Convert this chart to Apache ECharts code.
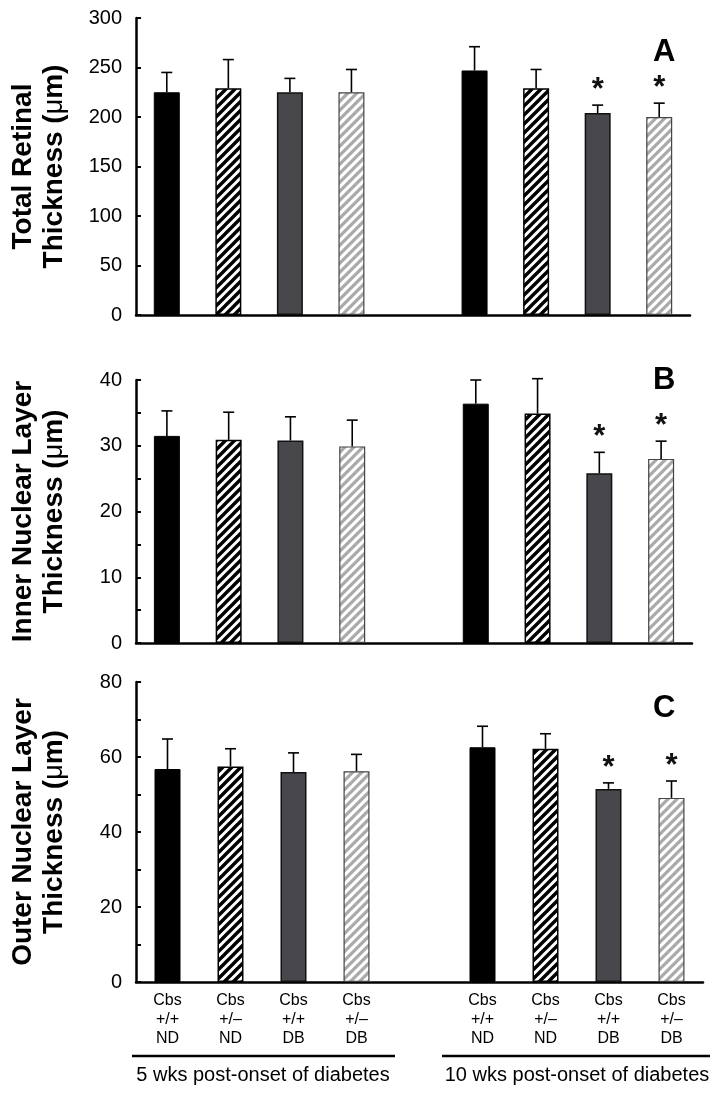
<!DOCTYPE html>
<html><head><meta charset="utf-8">
<script src="https://cdn.jsdelivr.net/npm/echarts@6/dist/echarts.min.js"></script>
<style>html,body{margin:0;padding:0;background:#fff}#c{width:719px;height:1094px}</style>
</head><body><div id="c"></div>
<script>
// ---- data ----
const genotypes = ['Cbs\n+/+\nND', 'Cbs\n+/\u2013\nND', 'Cbs\n+/+\nDB', 'Cbs\n+/\u2013\nDB'];
const periods = ['5 wks post-onset of diabetes', '10 wks post-onset of diabetes'];

// Panel A: total retinal thickness (µm)
const totalMean5 = [225, 229, 225, 225];
const totalErr5 = [20, 29, 14, 23];
const totalMean10 = [247, 229, 204, 200];
const totalErr10 = [24, 19, 8, 14];

// Panel B: inner nuclear layer thickness (µm)
const innerMean5 = [31.5, 30.9, 30.8, 29.9];
const innerErr5 = [3.8, 4.2, 3.6, 4.0];
const innerMean10 = [36.4, 34.9, 25.8, 28.0];
const innerErr10 = [3.6, 5.3, 3.2, 2.7];

// Panel C: outer nuclear layer thickness (µm)
const outerMean5 = [56.8, 57.5, 56.0, 56.2];
const outerErr5 = [8.0, 4.7, 5.1, 4.5];
const outerMean10 = [62.6, 62.2, 51.5, 49.1];
const outerErr10 = [5.6, 4.0, 1.6, 4.5];

// significance markers (*) at 10 wks
const sig5 = [false, false, false, false];
const sig10 = [false, false, true, true];

const panelLetters = ['A', 'B', 'C'];
const panelTitles = ['Total Retinal', 'Inner Nuclear Layer', 'Outer Nuclear Layer'];

// ---- styles ----
function stripes(color, bg, lw) {
  const s = 9;
  const c = document.createElement('canvas');
  c.width = s; c.height = s;
  const ctx = c.getContext('2d');
  ctx.fillStyle = bg; ctx.fillRect(0, 0, s, s);
  ctx.strokeStyle = color; ctx.lineWidth = lw; ctx.lineCap = 'square';
  ctx.beginPath();
  ctx.moveTo(-s / 2, s / 2); ctx.lineTo(s / 2, -s / 2);
  ctx.moveTo(0, s); ctx.lineTo(s, 0);
  ctx.moveTo(s / 2, 3 * s / 2); ctx.lineTo(3 * s / 2, s / 2);
  ctx.stroke();
  return c;
}
const blackStripe = stripes('#000', '#fff', 3.4);
const grayStripe = stripes('#aaaaaa', '#fff', 3.2);
const barStyles = [
  { color: '#000', borderColor: '#000', borderWidth: 1 },
  { color: { image: blackStripe, repeat: 'repeat' }, borderColor: '#000', borderWidth: 1.5 },
  { color: '#48484c', borderColor: '#111', borderWidth: 1.5 },
  { color: { image: grayStripe, repeat: 'repeat' }, borderColor: '#444', borderWidth: 1.2 }
];

const categories = [...genotypes, '', ...genotypes];

function barData(m5, m10) {
  const vals = [...m5, null, ...m10];
  return vals.map((v, i) => v === null ? '-' : { value: v, itemStyle: barStyles[i > 4 ? i - 5 : i] });
}
function errData(m5, e5, m10, e10) {
  const out = [];
  m5.forEach((m, i) => out.push([i, m, e5[i], sig5[i] ? 1 : 0]));
  m10.forEach((m, i) => out.push([i + 5, m, e10[i], sig10[i] ? 1 : 0]));
  return out;
}
function renderErr(params, api) {
  const x = api.value(0), m = api.value(1), e = api.value(2), s = api.value(3);
  const p0 = api.coord([x, m]);
  const p1 = api.coord([x, m + e]);
  const children = [
    { type: 'line', shape: { x1: p0[0], y1: p0[1], x2: p1[0], y2: p1[1] }, style: { stroke: '#000', lineWidth: 1.6 } },
    { type: 'line', shape: { x1: p1[0] - 5.5, y1: p1[1], x2: p1[0] + 5.5, y2: p1[1] }, style: { stroke: '#000', lineWidth: 1.6 } }
  ];
  if (s) {
    children.push({ type: 'text', style: { text: '*', x: p1[0], y: p1[1] + 1, align: 'center', verticalAlign: 'bottom',
      font: 'bold 31px "Liberation Sans", Arial, sans-serif', fill: '#111' } });
  }
  return { type: 'group', children };
}

const FONT = '"Liberation Sans", Arial, sans-serif';
const grids = [
  { left: 133, top: 18, right: 29, height: 297 },
  { left: 133, top: 380, right: 27, height: 263 },
  { left: 133, top: 682, right: 16, height: 300 }
];
const yCfg = [
  { max: 300, interval: 50, labelEvery: 50 },
  { max: 40, interval: 5, labelEvery: 10 },
  { max: 80, interval: 10, labelEvery: 20 }
];
const means = [[totalMean5, totalMean10], [innerMean5, innerMean10], [outerMean5, outerMean10]];
const errs = [[totalErr5, totalErr10], [innerErr5, innerErr10], [outerErr5, outerErr10]];

const option = {
  animation: false,
  backgroundColor: '#fff',
  title: panelLetters.map((t, i) => ({
    text: t, left: 648, top: [32, 360, 688][i],
    textStyle: { fontSize: 31, fontWeight: 'bold', color: '#000', fontFamily: FONT }
  })),
  grid: grids,
  xAxis: grids.map((g, i) => ({
    type: 'category', gridIndex: i, data: categories,
    axisLine: { lineStyle: { color: '#000', width: 2.5 } },
    axisTick: { show: false },
    axisLabel: { show: i === 2, interval: 0, color: '#000', fontSize: 16, lineHeight: 19, margin: 9, fontFamily: FONT }
  })),
  yAxis: grids.map((g, i) => ({
    type: 'value', gridIndex: i, min: 0, max: yCfg[i].max, interval: yCfg[i].interval,
    name: panelTitles[i] + '\nThickness ({mu|\u03bc}m)',
    nameLocation: 'middle', nameGap: 66,
    nameTextStyle: { fontSize: 28, fontWeight: 'bold', color: '#000', fontFamily: FONT, lineHeight: 31,
      rich: { mu: { fontSize: 27, fontWeight: 'normal', color: '#000', fontFamily: FONT, lineHeight: 31 } } },
    axisLine: { show: true, lineStyle: { color: '#000', width: 2.5 } },
    axisTick: { show: true, inside: true, length: 5, lineStyle: { color: '#000', width: 2 } },
    splitLine: { show: false },
    axisLabel: { color: '#000', fontSize: 20, margin: 14, fontFamily: FONT,
      formatter: v => (v % yCfg[i].labelEvery === 0 ? String(v) : '') }
  })),
  series: [0, 1, 2].flatMap(i => [
    { type: 'bar', xAxisIndex: i, yAxisIndex: i, barWidth: 26, data: barData(means[i][0], means[i][1]), z: 2 },
    { type: 'custom', xAxisIndex: i, yAxisIndex: i, renderItem: renderErr,
      data: errData(means[i][0], errs[i][0], means[i][1], errs[i][1]), encode: { x: 0, y: 1 }, z: 3 }
  ]),
  graphic: [
    { type: 'line', shape: { x1: 132, y1: 1056, x2: 395, y2: 1056 }, style: { stroke: '#000', lineWidth: 2.6 } },
    { type: 'line', shape: { x1: 442, y1: 1056, x2: 710, y2: 1056 }, style: { stroke: '#000', lineWidth: 2.6 } },
    { type: 'text', x: 263, y: 1075, style: { text: periods[0], align: 'center', verticalAlign: 'middle', font: '20px ' + FONT, fill: '#000' } },
    { type: 'text', x: 577, y: 1075, style: { text: periods[1], align: 'center', verticalAlign: 'middle', font: '20px ' + FONT, fill: '#000' } }
  ]
};
const chart = echarts.init(document.getElementById('c'), null, { renderer: 'canvas' });
chart.setOption(option);
</script>
</body></html>
